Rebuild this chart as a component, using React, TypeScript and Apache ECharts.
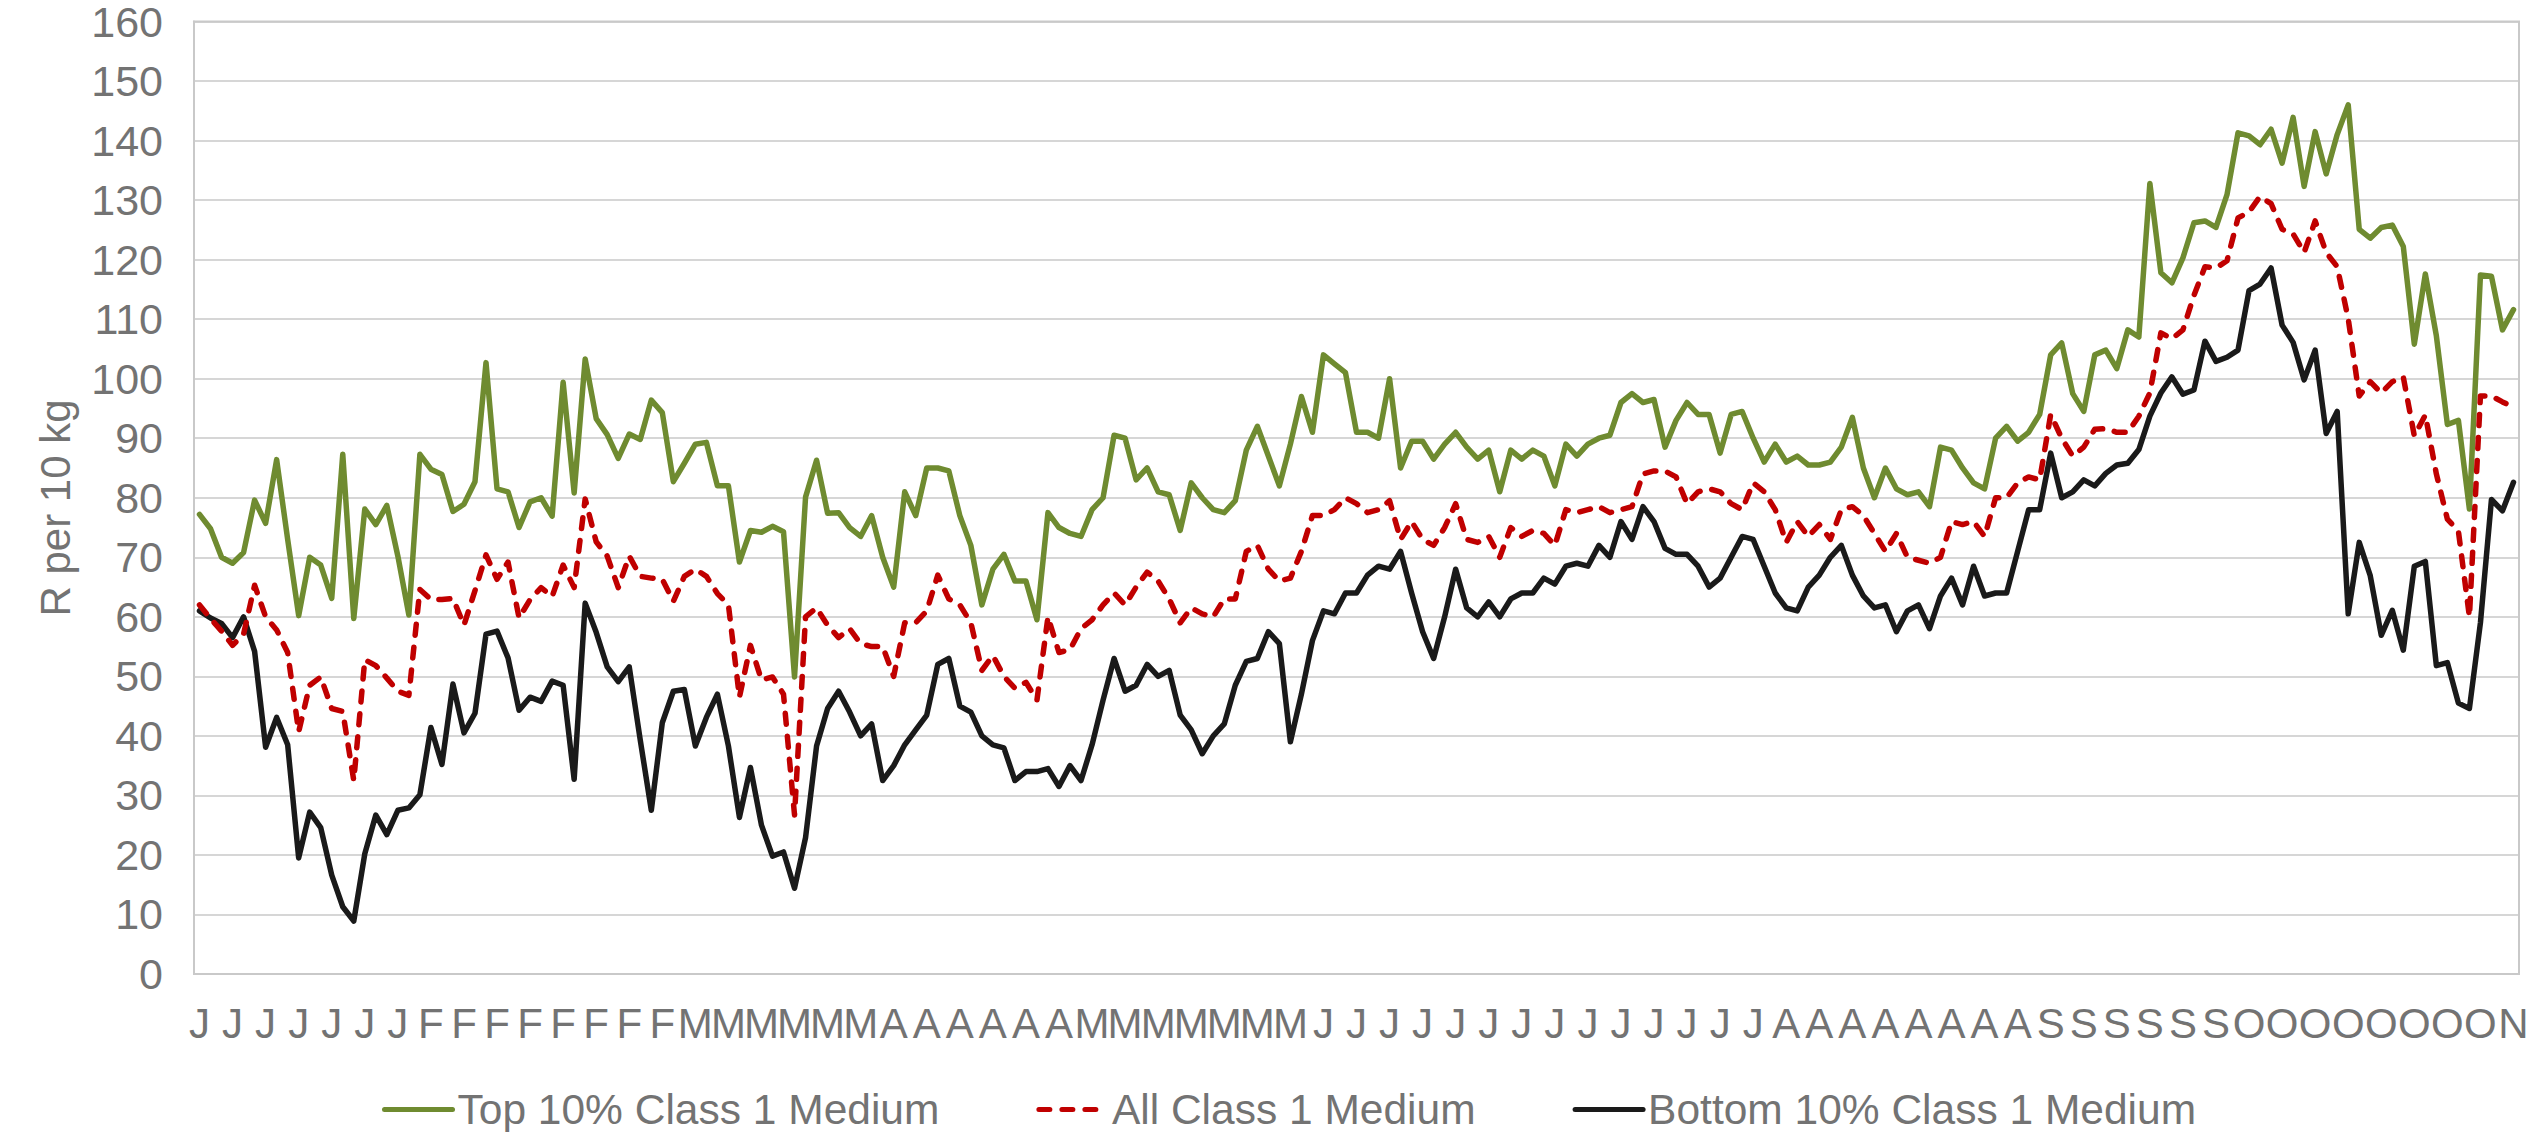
import React, { useEffect, useRef } from "react";
import * as echarts from "echarts";

// Tick labels shown on the category axis (one every third point)
const tickLabels: string[] = [
  "J", "J", "J", "J", "J", "J", "J",
  "F", "F", "F", "F", "F", "F", "F", "F",
  "M", "M", "M", "M", "M", "M",
  "A", "A", "A", "A", "A", "A",
  "M", "M", "M", "M", "M", "M", "M",
  "J", "J", "J", "J", "J", "J", "J", "J", "J", "J", "J", "J", "J", "J",
  "A", "A", "A", "A", "A", "A", "A", "A",
  "S", "S", "S", "S", "S", "S",
  "O", "O", "O", "O", "O", "O", "O", "O",
  "N",
];

const top10: number[] = [
  77.2, 74.8, 70.0, 69.0, 70.8, 79.6, 75.7, 86.4, 73.0, 60.2,
  70.0, 68.7, 63.1, 87.3, 59.7, 78.1, 75.5, 78.7, 70.2, 60.3,
  87.3, 84.8, 83.9, 77.7, 78.9, 82.7, 102.7, 81.5, 81.0, 75.0,
  79.3, 80.0, 76.9, 99.4, 80.8, 103.3, 93.3, 90.6, 86.6, 90.7,
  89.8, 96.4, 94.3, 82.7, 85.8, 89.0, 89.3, 82.0, 82.0, 69.2,
  74.5, 74.2, 75.2, 74.3, 49.9, 80.1, 86.3, 77.4, 77.5, 75.0,
  73.5, 77.0, 70.0, 65.0, 81.0, 77.0, 85.0, 85.0, 84.5, 77.0,
  72.0, 62.0, 68.0, 70.5, 66.0, 66.0, 59.5, 77.5, 75.0, 74.0,
  73.5, 78.0, 80.0, 90.5, 90.0, 83.0, 85.0, 81.0, 80.5, 74.5,
  82.5, 80.0, 78.0, 77.5, 79.5, 88.0, 92.0, 87.0, 82.0, 89.0,
  97.0, 91.0, 104.0, 102.5, 101.0, 91.0, 91.0, 90.0, 100.0, 85.0,
  89.5, 89.5, 86.5, 89.0, 91.0, 88.5, 86.5, 88.0, 81.0, 88.0,
  86.5, 88.0, 87.0, 82.0, 89.0, 87.0, 89.0, 90.0, 90.5, 96.0,
  97.5, 96.0, 96.5, 88.5, 93.0, 96.0, 94.0, 94.0, 87.5, 94.0,
  94.5, 90.0, 86.0, 89.0, 86.0, 87.0, 85.5, 85.5, 86.0, 88.5,
  93.5, 85.0, 80.0, 85.0, 81.5, 80.5, 81.0, 78.5, 88.5, 88.0,
  85.0, 82.5, 81.5, 90.0, 92.0, 89.5, 91.0, 94.0, 104.0, 106.0,
  97.5, 94.5, 104.0, 104.8, 101.7, 108.2, 107.0, 132.8, 117.8, 116.1,
  120.3, 126.2, 126.5, 125.4, 130.9, 141.3, 140.8, 139.3, 141.9, 136.2,
  143.9, 132.3, 141.5, 134.4, 141.0, 146.0, 125.1, 123.6, 125.4, 125.8,
  122.2, 105.8, 117.6, 107.2, 92.3, 93.0, 78.1, 117.4, 117.2, 108.2,
  111.6,
];

const allClass: number[] = [
  62.0, 59.7, 57.6, 55.2, 57.1, 65.3, 60.0, 57.8, 54.0, 40.7,
  48.5, 49.9, 44.6, 44.1, 32.5, 52.8, 51.8, 49.7, 47.5, 46.8,
  64.6, 62.9, 62.9, 63.1, 58.6, 64.4, 70.4, 66.3, 69.2, 59.8,
  62.9, 64.9, 63.4, 68.7, 64.9, 79.8, 72.6, 70.2, 64.9, 70.2,
  66.8, 66.5, 66.3, 62.6, 66.8, 68.0, 66.8, 63.9, 62.0, 46.5,
  55.2, 49.4, 49.9, 47.0, 26.7, 60.0, 61.5, 58.6, 56.5, 58.0,
  55.5, 55.0, 55.0, 50.0, 59.0, 59.0, 61.0, 67.0, 63.0, 62.0,
  59.0, 51.0, 53.5, 50.0, 48.0, 49.0, 46.0, 60.0, 54.0, 54.5,
  58.0, 59.5, 62.0, 64.0, 62.0, 65.0, 67.5, 66.0, 63.0, 59.0,
  61.5, 60.5, 60.0, 63.0, 63.0, 71.0, 72.0, 68.0, 66.0, 66.5,
  71.0, 77.0, 77.0, 78.0, 80.0, 79.0, 77.5, 78.0, 79.5, 73.0,
  76.0, 73.0, 72.0, 75.0, 79.0, 73.0, 72.5, 73.5, 70.0, 75.0,
  73.5, 74.5, 74.0, 72.0, 78.0, 77.5, 78.0, 78.5, 77.5, 78.0,
  78.5, 84.0, 84.5, 84.5, 83.5, 79.0, 81.0, 81.5, 81.0, 79.0,
  78.0, 82.5, 81.0, 78.0, 72.5, 76.0, 73.5, 75.5, 73.0, 78.0,
  78.5, 77.0, 74.0, 71.0, 74.0, 70.0, 69.5, 69.0, 70.0, 76.0,
  75.5, 76.0, 73.5, 80.0, 80.0, 82.5, 83.5, 83.0, 94.0, 90.0,
  87.0, 88.5, 91.5, 91.6, 91.0, 91.0, 93.7, 97.6, 107.7, 106.7,
  108.2, 114.0, 118.8, 118.6, 119.8, 127.0, 128.0, 130.6, 129.4, 125.1,
  124.3, 121.2, 126.5, 121.2, 118.8, 110.1, 97.1, 99.5, 97.6, 99.5,
  100.3, 90.4, 93.9, 84.0, 76.4, 74.4, 60.0, 97.1, 97.1, 96.1,
  95.2,
];

const bottom10: number[] = [
  61.0, 59.8, 58.9, 56.5, 60.0, 54.2, 38.1, 43.1, 38.5, 19.5,
  27.2, 24.6, 16.6, 11.3, 8.9, 20.2, 26.7, 23.4, 27.5, 27.9,
  30.1, 41.4, 35.2, 48.7, 40.5, 43.8, 57.1, 57.6, 53.1, 44.3,
  46.5, 45.8, 49.2, 48.5, 32.7, 62.3, 57.4, 51.6, 49.1, 51.6,
  39.3, 27.5, 42.2, 47.5, 47.8, 38.3, 43.1, 47.0, 38.3, 26.3,
  34.7, 25.0, 19.8, 20.5, 14.4, 22.9, 38.3, 44.6, 47.5, 44.0,
  40.0, 42.0, 32.5, 35.0, 38.5, 41.0, 43.5, 52.0, 53.0, 45.0,
  44.0, 40.0, 38.5, 38.0, 32.5, 34.0, 34.0, 34.5, 31.5, 35.0,
  32.5, 38.5, 46.0, 53.0, 47.5, 48.5, 52.0, 50.0, 51.0, 43.5,
  41.0, 37.0, 40.0, 42.0, 48.5, 52.5, 53.0, 57.5, 55.5, 39.0,
  47.0, 56.0, 61.0, 60.5, 64.0, 64.0, 67.0, 68.5, 68.0, 71.0,
  64.0, 57.5, 53.0, 60.0, 68.0, 61.5, 60.0, 62.5, 60.0, 63.0,
  64.0, 64.0, 66.5, 65.5, 68.5, 69.0, 68.5, 72.0, 70.0, 76.0,
  73.0, 78.5, 76.0, 71.5, 70.5, 70.5, 68.5, 65.0, 66.5, 70.0,
  73.5, 73.0, 68.5, 64.0, 61.5, 61.0, 65.0, 67.0, 70.0, 72.0,
  67.0, 63.5, 61.5, 62.0, 57.5, 61.0, 62.0, 58.0, 63.5, 66.5,
  62.0, 68.5, 63.5, 64.0, 64.0, 71.0, 78.0, 78.0, 87.5, 80.0,
  81.0, 83.0, 82.0, 84.1, 85.5, 85.8, 88.1, 93.7, 97.6, 100.3,
  97.4, 98.1, 106.3, 102.9, 103.6, 104.8, 114.8, 115.9, 118.6, 109.0,
  106.1, 99.8, 104.8, 90.8, 94.5, 60.5, 72.5, 66.9, 56.9, 61.1,
  54.4, 68.5, 69.3, 51.8, 52.3, 45.5, 44.6, 59.0, 79.7, 77.8,
  82.6,
];

const seriesNames = ["Top 10% Class 1 Medium", "All Class 1 Medium", "Bottom 10% Class 1 Medium"];
const yTicks = { min: 0, max: 160, interval: 10 };

const FONT = "'Liberation Sans', Arial, sans-serif";
const TEXT = "#737373";
const GRID = "#c9c9c9";
const LW = 5.5;

export default function App() {
  const ref = useRef<HTMLDivElement>(null);
  useEffect(() => {
    document.body.style.margin = "0";
    if (!ref.current) return;
    const chart = echarts.init(ref.current, undefined, { renderer: "svg" });
    const categories = top10.map((_, i) => tickLabels[Math.floor(i / 3)] ?? "");
    chart.setOption({
      animation: false,
      backgroundColor: "#ffffff",
      textStyle: { fontFamily: FONT },
      grid: {
        left: 194,
        right: 20,
        top: 21,
        bottom: 158,
        show: true,
        borderColor: GRID,
        borderWidth: 2,
      },
      legend: {
        left: 377,
        top: 1083,
        itemWidth: 68,
        itemHeight: 16,
        itemGap: 97,
        itemStyle: { opacity: 0 },
        lineStyle: { width: 5 },
        textStyle: { fontSize: 42.5, color: TEXT, fontFamily: FONT, lineHeight: 42 },
        data: seriesNames,
      },
      xAxis: {
        type: "category",
        data: categories,
        boundaryGap: true,
        axisLine: { show: true, lineStyle: { color: GRID, width: 2 } },
        axisTick: { show: false },
        axisLabel: {
          interval: 2,
          color: TEXT,
          fontSize: 42,
          fontFamily: FONT,
          margin: 28,
        },
        splitLine: { show: false },
      },
      yAxis: {
        type: "value",
        min: yTicks.min,
        max: yTicks.max,
        interval: yTicks.interval,
        axisLine: { show: true, lineStyle: { color: GRID, width: 2 } },
        axisTick: { show: false },
        axisLabel: { color: TEXT, fontSize: 43, fontFamily: FONT, margin: 31, lineHeight: 32 },
        splitLine: { show: true, lineStyle: { color: GRID, width: 1.5 } },
      },
      graphic: [
        {
          type: "text",
          x: 55,
          y: 508,
          rotation: Math.PI / 2,
          style: {
            text: "R per 10 kg",
            font: `42px ${FONT}`,
            fill: TEXT,
            textAlign: "center",
            textVerticalAlign: "middle",
          },
        },
      ],
      series: [
        {
          name: seriesNames[0],
          type: "line",
          data: top10,
          symbol: "none",
          lineStyle: { color: "#6f8b30", width: LW, join: "round", cap: "round" },
          itemStyle: { color: "#6f8b30" },
          z: 3,
        },
        {
          name: seriesNames[1],
          type: "line",
          data: allClass,
          symbol: "none",
          lineStyle: { color: "#c00000", width: LW, type: [11, 12], cap: "round", join: "round" },
          itemStyle: { color: "#c00000" },
          z: 4,
        },
        {
          name: seriesNames[2],
          type: "line",
          data: bottom10,
          symbol: "none",
          lineStyle: { color: "#1a1a1a", width: LW, join: "round", cap: "round" },
          itemStyle: { color: "#1a1a1a" },
          z: 2,
        },
      ],
    });
    return () => chart.dispose();
  }, []);
  return <div ref={ref} style={{ width: 2539, height: 1132 }} />;
}
